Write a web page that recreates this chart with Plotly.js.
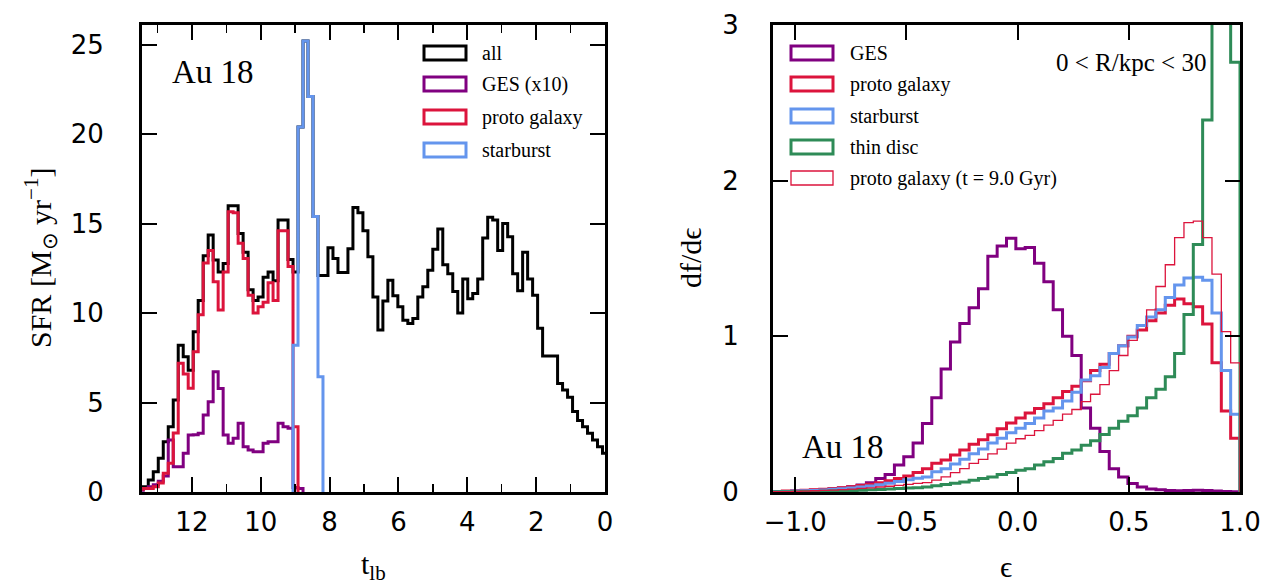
<!DOCTYPE html>
<html><head><meta charset="utf-8">
<script src="https://cdn.plot.ly/plotly-3.0.1.min.js"></script>
<style>html,body{margin:0;padding:0;background:#fff;} #chart{width:1265px;height:587px;}</style>
</head><body><div id="chart"></div>
<script>
// ---------------- Left panel: SFR histograms, bin k centred on t_lb = 0.145*k Gyr ----------------
const sfrBinWidth = 0.145;
const sfrAll = [2.16, 2.53, 2.9, 3.28, 3.65, 4.0, 4.5, 5.3, 5.7, 6.07,
 7.6, 7.6, 7.6, 9.15, 11.0, 11.9, 13.4, 11.25, 12.2, 14.26,
 15.0, 13.5, 15.2, 15.35, 14.2, 11.9, 11.1, 10.8, 11.9, 10.0,
 11.2, 12.2, 12.7, 14.7, 13.57, 12.4, 11.47, 10.9, 9.7, 9.42,
 9.6, 10.35, 10.97, 11.84, 10.67, 9.05, 10.9, 13.15, 14.6, 15.6,
 15.9, 13.6, 12.27, 12.27, 13.05, 13.65, 12.1, 12.1, 15.4, 22.1,
 25.2, 20.4, 12.3, 13.0, 15.2, 15.2, 11.8, 12.3, 12.0, 10.9,
 10.7, 11.3, 13.4, 14.45, 16.0, 16.0, 12.77, 12.3, 12.96, 14.36,
 13.2, 10.7, 8.96, 6.8, 7.56, 8.2, 5.14, 3.65, 2.81, 1.88,
 1.13, 0.67, 0.3, 0.3];
const sfrAllStart = 0;
const sfrGESx10 = [0.2, 0.25, 3.56, 3.65, 3.84, 2.81, 2.81, 2.72, 2.25, 2.25,
 2.35, 2.53, 3.84, 3.0, 2.72, 3.18, 5.79, 6.72, 5.05, 4.3,
 3.28, 3.2, 3.18, 2.16, 1.41, 1.41, 2.9, 0.9, 0.6, 0.4,
 0.3, 0.2, 0.1];
const sfrGESx10Start = 61;
const sfrProto = [3.65, 12.6, 14.6, 14.6, 10.7, 11.7, 10.6, 10.35, 10.0, 11.0,
 13.05, 13.9, 15.6, 15.66, 12.3, 10.17, 11.75, 13.5, 12.8, 9.9,
 7.84, 5.8, 6.6, 7.2, 3.3, 1.6, 1.05, 0.5, 0.3, 0.2,
 0.2, 0.15];
const sfrProtoStart = 62;
const sfrStarburst = [6.44, 15.4, 22.1, 25.2, 20.4, 8.2];
const sfrStarburstStart = 57;
const tlbTicks = [12, 10, 8, 6, 4, 2, 0];
const sfrTicks = [0, 5, 10, 15, 20, 25];

// ---------------- Right panel: circularity distributions, 50 bins from -1.1 to 1.0 ----------------
const epsLow = -1.1;
const epsBinWidth = 0.042;
const dfGES = [0.003, 0.004, 0.006, 0.008, 0.011, 0.015, 0.02, 0.026, 0.034, 0.045,
 0.06, 0.086, 0.112, 0.173, 0.227, 0.314, 0.44, 0.606, 0.79, 0.963,
 1.082, 1.184, 1.305, 1.515, 1.58, 1.63, 1.563, 1.57, 1.47, 1.35,
 1.17, 1.0, 0.877, 0.54, 0.41, 0.26, 0.15, 0.097, 0.054, 0.032,
 0.02, 0.014, 0.01, 0.008, 0.01, 0.012, 0.01, 0.006, 0.003, 0.002];
const dfProto = [0.004, 0.006, 0.008, 0.011, 0.014, 0.018, 0.023, 0.028, 0.034, 0.041,
 0.05, 0.06, 0.072, 0.087, 0.103, 0.125, 0.15, 0.184, 0.206, 0.238,
 0.27, 0.307, 0.335, 0.368, 0.407, 0.444, 0.476, 0.508, 0.537, 0.567,
 0.606, 0.645, 0.68, 0.714, 0.78, 0.82, 0.89, 0.94, 1.0, 1.04,
 1.10, 1.15, 1.2, 1.24, 1.21, 1.19, 1.08, 0.83, 0.52, 0.346];
const dfStarburst = [0.003, 0.004, 0.006, 0.008, 0.01, 0.013, 0.017, 0.021, 0.026, 0.032,
 0.039, 0.047, 0.057, 0.068, 0.078, 0.088, 0.097, 0.13, 0.15, 0.18,
 0.21, 0.245, 0.277, 0.314, 0.346, 0.38, 0.41, 0.44, 0.476, 0.52,
 0.54, 0.584, 0.64, 0.72, 0.747, 0.80, 0.89, 0.94, 0.995, 1.07,
 1.125, 1.17, 1.25, 1.33, 1.375, 1.38, 1.36, 1.15, 0.78, 0.5];
const dfThinDisc = [0.001, 0.002, 0.002, 0.003, 0.004, 0.005, 0.006, 0.008, 0.01, 0.012,
 0.014, 0.016, 0.019, 0.022, 0.025, 0.028, 0.032, 0.04, 0.048, 0.056,
 0.065, 0.076, 0.087, 0.097, 0.112, 0.125, 0.14, 0.15, 0.173, 0.195,
 0.216, 0.249, 0.27, 0.30, 0.33, 0.37, 0.41, 0.455, 0.49, 0.54,
 0.606, 0.66, 0.74, 0.89, 1.14, 1.59, 2.39, 4.2, 5.5, 2.76];
const dfProtoT9 = [0.002, 0.003, 0.004, 0.006, 0.008, 0.01, 0.012, 0.015, 0.019, 0.023,
 0.027, 0.032, 0.037, 0.043, 0.049, 0.055, 0.06, 0.076, 0.097, 0.125,
 0.15, 0.184, 0.21, 0.245, 0.275, 0.314, 0.342, 0.364, 0.394, 0.43,
 0.46, 0.5, 0.53, 0.58, 0.628, 0.69, 0.78, 0.877, 0.974, 1.04,
 1.17, 1.32, 1.46, 1.634, 1.73, 1.74, 1.634, 1.40, 1.03, 0.83];
const epsTicks = [-1.0, -0.5, 0.0, 0.5, 1.0];
const dfTicks = [0, 1, 2, 3];

const leftLabels = ['all', 'GES (x10)', 'proto galaxy', 'starburst'];
const rightLabels = ['GES', 'proto galaxy', 'starburst', 'thin disc', 'proto galaxy (t = 9.0 Gyr)'];

// colours
const C_ALL = '#000000', C_GES = '#800080', C_PROTO = '#DC143C', C_SB = '#6495ED', C_THIN = '#2E8B57';

// ---------- helpers ----------
function stepTrace(values, startBin, width, lowEdge, color, lw, xa, ya, name) {
  const x = [], y = [];
  const e0 = lowEdge + startBin * width;
  x.push(e0); y.push(0);
  for (let i = 0; i < values.length; i++) { x.push(lowEdge + (startBin + i) * width); y.push(values[i]); }
  x.push(lowEdge + (startBin + values.length) * width); y.push(0);
  return {type: 'scatter', mode: 'lines', x: x, y: y, xaxis: xa, yaxis: ya, name: name,
          line: {shape: 'hv', color: color, width: lw}, showlegend: false, hoverinfo: 'skip'};
}
const W = 1265, H = 587;
const px = v => v / W, py = v => 1 - v / H;

const sfrLow = -sfrBinWidth / 2;
const traces = [
  stepTrace(sfrAll, sfrAllStart, sfrBinWidth, sfrLow, C_ALL, 3, 'x', 'y', leftLabels[0]),
  stepTrace(sfrGESx10, sfrGESx10Start, sfrBinWidth, sfrLow, C_GES, 3, 'x', 'y', leftLabels[1]),
  stepTrace(sfrProto, sfrProtoStart, sfrBinWidth, sfrLow, C_PROTO, 3, 'x', 'y', leftLabels[2]),
  stepTrace(sfrStarburst, sfrStarburstStart, sfrBinWidth, sfrLow, C_SB, 3, 'x', 'y', leftLabels[3]),
  stepTrace(dfGES, 0, epsBinWidth, epsLow, C_GES, 3, 'x2', 'y2', rightLabels[0]),
  stepTrace(dfProto, 0, epsBinWidth, epsLow, C_PROTO, 3, 'x2', 'y2', rightLabels[1]),
  stepTrace(dfStarburst, 0, epsBinWidth, epsLow, C_SB, 3, 'x2', 'y2', rightLabels[2]),
  stepTrace(dfThinDisc, 0, epsBinWidth, epsLow, C_THIN, 3, 'x2', 'y2', rightLabels[3]),
  stepTrace(dfProtoT9, 0, epsBinWidth, epsLow, C_PROTO, 1.3, 'x2', 'y2', rightLabels[4])
];

const tickFont = {family: 'DejaVu Sans', size: 26, color: '#000'};
const serif = 'Liberation Serif';
const axisBase = {showline: true, linecolor: '#000', linewidth: 3, mirror: 'ticks', ticks: 'inside',
  ticklen: 15, tickwidth: 2, tickcolor: '#000', showgrid: false, zeroline: false, tickfont: tickFont,
  fixedrange: true};

const yDom = [py(492), py(25)];
const layout = {
  width: W, height: H, margin: {l: 0, r: 0, t: 0, b: 0}, paper_bgcolor: '#fff', plot_bgcolor: '#fff',
  showlegend: false,
  xaxis: Object.assign({}, axisBase, {domain: [px(142), px(605)], range: [13.45, 0], tickvals: tlbTicks,
    ticktext: tlbTicks.map(String), ticklabelstandoff: 5,
    minor: {dtick: 1, tick0: 0, ticks: 'inside', ticklen: 8, tickwidth: 1.5, tickcolor: '#000'}, anchor: 'y'}),
  yaxis: Object.assign({}, axisBase, {domain: yDom, range: [0, 26.1], tickvals: sfrTicks,
    ticktext: sfrTicks.map(String), ticklabelstandoff: 30, anchor: 'x'}),
  xaxis2: Object.assign({}, axisBase, {domain: [px(773), px(1240)], range: [-1.1, 1.0], tickvals: epsTicks,
    tickformat: '.1f', ticklabelstandoff: 5, anchor: 'y2'}),
  yaxis2: Object.assign({}, axisBase, {domain: yDom, range: [0, 3], tickvals: dfTicks,
    ticktext: dfTicks.map(String), ticklabelstandoff: 26, anchor: 'x2'}),
  shapes: [], annotations: []
};

function legendEntry(boxL, boxR, cy, textX, color, lw, label, size) {
  layout.shapes.push({type: 'rect', xref: 'paper', yref: 'paper', x0: px(boxL), x1: px(boxR),
    y0: py(cy + 7), y1: py(cy - 7), line: {color: color, width: lw}, fillcolor: 'rgba(0,0,0,0)'});
  layout.annotations.push({xref: 'paper', yref: 'paper', x: px(textX), y: py(cy), xanchor: 'left',
    yanchor: 'middle', showarrow: false, text: label, font: {family: serif, size: size, color: '#000'}});
}
const leftCols = [C_ALL, C_GES, C_PROTO, C_SB];
const leftY = [53, 84, 117, 150];
leftLabels.forEach((l, i) => legendEntry(424, 466, leftY[i], 480, leftCols[i], 3, l, 20));
const rightCols = [C_GES, C_PROTO, C_SB, C_THIN, C_PROTO];
const rightY = [53, 84, 116, 147, 178];
const rightW = [3, 3, 3, 3, 1.3];
rightLabels.forEach((l, i) => legendEntry(791, 833, rightY[i], 848, rightCols[i], rightW[i], l, 20));

function txt(x, y, text, size, opts) {
  layout.annotations.push(Object.assign({xref: 'paper', yref: 'paper', x: px(x), y: py(y), showarrow: false,
    text: text, font: {family: serif, size: size, color: '#000'}, xanchor: 'center', yanchor: 'middle'}, opts || {}));
}
txt(170, 72, 'Au 18', 33, {xanchor: 'left'});
txt(800, 447, 'Au 18', 33, {xanchor: 'left'});
txt(1208, 63, '0 &lt; R/kpc &lt; 30', 25, {xanchor: 'right'});
txt(40, 258, 'SFR [M<sub>⊙</sub> yr<sup>−1</sup>]', 30, {textangle: -90});
txt(373, 566, 't<sub>lb</sub>', 30);
txt(1006, 566, 'ϵ', 30);
txt(690, 258, 'df/dϵ', 30, {textangle: -90});

Plotly.newPlot('chart', traces, layout, {staticPlot: true, displayModeBar: false});
</script></body></html>
